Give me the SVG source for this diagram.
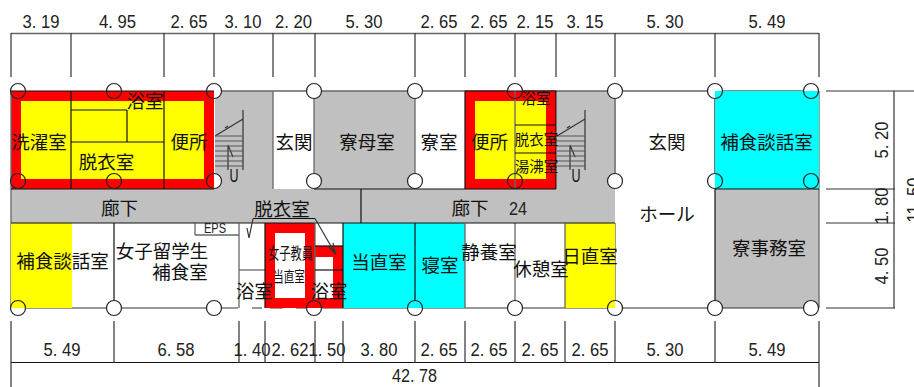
<svg xmlns="http://www.w3.org/2000/svg" width="914" height="387" viewBox="0 0 914 387">
<style>
text{font-family:"Noto Sans CJK JP","Noto Sans",sans-serif;fill:#111;text-anchor:middle}
.r{font-size:18.500px}
.s{font-size:14.500px}
.d{font-family:"Liberation Sans",sans-serif;font-size:18px;fill:#222}
line,polyline,path.l{stroke:#333;stroke-width:1.2;fill:none}
.g{stroke:#666;stroke-width:1.3}
.k{stroke:#111;stroke-width:1.2}
.c{fill:#fff;stroke:none}
.o{fill:none;stroke:#222;stroke-width:1.2}
</style>
<defs>
<circle id="cw" r="7.5" class="c"/>
<circle id="co" r="7.5" class="o"/>
<g id="stair">
<path class="l" d="M0 136L28 119M28 110V170M13 145V170M13 145L18 157M10 128L13 126"/>
<path class="l" style="stroke:#555" d="M0 136H28M0 141H28M0 146H28M0 151H28M0 156H28M0 161H28M0 166H28"/>
<text x="19" y="182" style="font-family:'Liberation Sans',sans-serif;font-size:18px" textLength="9" lengthAdjust="spacingAndGlyphs">U</text>
</g>
</defs>
<rect width="914" height="387" fill="#fff"/>

<g id="base-fills" fill="#c0c0c0">
<rect x="215" y="91" width="58" height="98"/>
<rect x="314" y="91" width="101" height="98"/>
<rect x="557" y="91" width="59" height="98"/>
<rect x="11" y="189" width="604" height="34"/>
<rect x="715" y="189" width="104" height="119"/>
</g>

<g id="walls-under">
<line class="g" x1="214" y1="91" x2="819" y2="91"/>
<line class="g" x1="11" y1="189" x2="11" y2="308"/>
<line class="g" x1="273" y1="91" x2="273" y2="189"/>
<line class="g" x1="314" y1="91" x2="314" y2="189"/>
<line class="g" x1="415" y1="91" x2="415" y2="189"/>
<line class="g" x1="615" y1="91" x2="615" y2="189"/>
<line class="k" x1="715" y1="91" x2="715" y2="308"/>
<line class="g" x1="819" y1="91" x2="819" y2="308"/>
<line class="k" x1="114" y1="223" x2="114" y2="308"/>
<line class="k" x1="415" y1="223" x2="415" y2="308"/>
<line class="g" x1="515" y1="223" x2="515" y2="308"/>
<line class="g" x1="615" y1="223" x2="615" y2="308"/>
<path class="l" d="M11 308H238M252 308H262M270 308H283M296 308H310M318 308H819"/>
</g>

<g id="columns-fill">
<use href="#cw" x="18" y="91"/><use href="#cw" x="114" y="91"/><use href="#cw" x="214" y="91"/><use href="#cw" x="314" y="91"/><use href="#cw" x="415" y="91"/><use href="#cw" x="515" y="91"/><use href="#cw" x="615" y="91"/><use href="#cw" x="715" y="91"/><use href="#cw" x="811" y="91"/>
<use href="#cw" x="18" y="181"/><use href="#cw" x="114" y="181"/><use href="#cw" x="214" y="181"/><use href="#cw" x="314" y="181"/><use href="#cw" x="415" y="181"/><use href="#cw" x="515" y="181"/><use href="#cw" x="615" y="181"/><use href="#cw" x="715" y="181"/><use href="#cw" x="811" y="181"/>
<use href="#cw" x="18" y="308"/><use href="#cw" x="114" y="308"/><use href="#cw" x="214" y="308"/><use href="#cw" x="314" y="308"/><use href="#cw" x="415" y="308"/><use href="#cw" x="515" y="308"/><use href="#cw" x="615" y="308"/><use href="#cw" x="715" y="308"/><use href="#cw" x="811" y="308"/>
</g>

<g id="color-fills">
<rect x="11" y="91" width="203" height="98" fill="#f00"/>
<rect x="21" y="101" width="183" height="78" fill="#ff0"/>
<rect x="465" y="91" width="91" height="98" fill="#f00"/>
<rect x="475" y="101" width="71" height="78" fill="#ff0"/>
<rect x="715" y="91" width="104" height="98" fill="#0ff"/>
<rect x="11" y="223" width="61" height="85" fill="#ff0"/>
<path d="M265 223H315V246H343V308H265Z" fill="#f00"/>
<rect x="275" y="233" width="30" height="65" fill="#fff"/>
<rect x="315" y="257" width="18" height="41" fill="#fff"/>
<rect x="343" y="223" width="122" height="85" fill="#0ff"/>
<rect x="565" y="223" width="50" height="85" fill="#ff0"/>
</g>

<g id="walls">
<line class="k" x1="11" y1="91" x2="214" y2="91"/>
<line class="k" x1="465" y1="91" x2="556" y2="91"/>
<line class="g" x1="11" y1="91" x2="11" y2="189"/>
<line class="k" x1="71" y1="91" x2="71" y2="189"/>
<line class="k" x1="164" y1="91" x2="164" y2="189"/>
<line class="k" x1="71" y1="110" x2="127" y2="110"/>
<line class="k" x1="127" y1="110" x2="127" y2="142"/>
<line class="k" x1="71" y1="142" x2="164" y2="142"/>
<line class="k" x1="11" y1="189" x2="214" y2="189"/>
<line class="k" x1="465" y1="91" x2="465" y2="189"/>
<line class="g" x1="515" y1="91" x2="515" y2="189"/>
<line class="k" x1="556" y1="91" x2="556" y2="189"/>
<line class="k" x1="515" y1="125" x2="556" y2="125"/>
<line class="k" x1="515" y1="153" x2="556" y2="153"/>
<line class="k" x1="314" y1="189" x2="556" y2="189"/>
<line class="k" x1="715" y1="189" x2="819" y2="189"/>
<line class="k" x1="361" y1="189" x2="361" y2="223"/>
<line class="k" x1="11" y1="223" x2="615" y2="223"/>
<line class="g" x1="195" y1="235" x2="239" y2="235"/>
<line class="g" x1="195" y1="223" x2="195" y2="235"/>
<line class="g" x1="239" y1="223" x2="239" y2="308"/>
<line class="g" x1="239" y1="270" x2="265" y2="270"/>
<line class="k" x1="265" y1="223" x2="265" y2="308"/>
<line class="g" x1="315" y1="223" x2="315" y2="300"/>
<line class="k" x1="315" y1="246" x2="343" y2="246"/>
<line class="k" x1="315" y1="270" x2="343" y2="270"/>
<line class="k" x1="343" y1="223" x2="343" y2="308"/>
<line class="k" x1="415" y1="223" x2="415" y2="301"/>
<line class="g" x1="465" y1="223" x2="465" y2="308"/>
<line class="g" x1="565" y1="223" x2="565" y2="308"/>
<line class="k" x1="253" y1="218.500" x2="315" y2="218.500"/>
<path class="l" d="M253 218.500L249 238M247 228L249 238L251 228M315 218.500L335.500 254M328 246L335.500 254L333 243"/>
<use href="#stair" x="215"/>
<use href="#stair" x="557"/>
</g>

<g id="columns-outline">
<use href="#co" x="18" y="91"/><use href="#co" x="114" y="91"/><use href="#co" x="214" y="91"/><use href="#co" x="314" y="91"/><use href="#co" x="415" y="91"/><use href="#co" x="515" y="91"/><use href="#co" x="615" y="91"/><use href="#co" x="715" y="91"/><use href="#co" x="811" y="91"/>
<use href="#co" x="18" y="181"/><use href="#co" x="114" y="181"/><use href="#co" x="214" y="181"/><use href="#co" x="314" y="181"/><use href="#co" x="415" y="181"/><use href="#co" x="515" y="181"/><use href="#co" x="615" y="181"/><use href="#co" x="715" y="181"/><use href="#co" x="811" y="181"/>
<use href="#co" x="18" y="308"/><use href="#co" x="114" y="308"/><use href="#co" x="214" y="308"/><use href="#co" x="314" y="308"/><use href="#co" x="415" y="308"/><use href="#co" x="515" y="308"/><use href="#co" x="615" y="308"/><use href="#co" x="715" y="308"/><use href="#co" x="811" y="308"/>
</g>

<g id="dimension-lines">
<line class="g" x1="11" y1="33.500" x2="819" y2="33.500"/>
<path class="l" d="M11 33V77M71 33V77M164 33V77M214 33V77M273 33V77M315 33V77M415 33V77M465 33V77M515 33V77M556 33V77M615 33V77M715 33V77M819 33V77"/>
<line class="k" x1="11" y1="362.500" x2="819" y2="362.500"/>
<path class="l" d="M11 321V387M114 321V363M239 321V363M265 321V363M315 321V363M343 321V363M415 321V363M465 321V363M515 321V363M565 321V363M615 321V363M715 321V363M819 321V387"/>
<path class="l" d="M826 91H914M826 189H895M826 223H895M826 308H895M894 91V308"/>
</g>

<g id="dimensions">
<text class="d" x="41" y="27.500" textLength="37" lengthAdjust="spacingAndGlyphs">3. 19</text>
<text class="d" x="117.500" y="27.500" textLength="37" lengthAdjust="spacingAndGlyphs">4. 95</text>
<text class="d" x="189" y="27.500" textLength="37" lengthAdjust="spacingAndGlyphs">2. 65</text>
<text class="d" x="243" y="27.500" textLength="37" lengthAdjust="spacingAndGlyphs">3. 10</text>
<text class="d" x="293.500" y="27.500" textLength="37" lengthAdjust="spacingAndGlyphs">2. 20</text>
<text class="d" x="364" y="27.500" textLength="37" lengthAdjust="spacingAndGlyphs">5. 30</text>
<text class="d" x="439" y="27.500" textLength="37" lengthAdjust="spacingAndGlyphs">2. 65</text>
<text class="d" x="489" y="27.500" textLength="37" lengthAdjust="spacingAndGlyphs">2. 65</text>
<text class="d" x="535" y="27.500" textLength="37" lengthAdjust="spacingAndGlyphs">2. 15</text>
<text class="d" x="585" y="27.500" textLength="37" lengthAdjust="spacingAndGlyphs">3. 15</text>
<text class="d" x="665" y="27.500" textLength="37" lengthAdjust="spacingAndGlyphs">5. 30</text>
<text class="d" x="767" y="27.500" textLength="37" lengthAdjust="spacingAndGlyphs">5. 49</text>
<text class="d" x="62" y="356" textLength="37" lengthAdjust="spacingAndGlyphs">5. 49</text>
<text class="d" x="176" y="356" textLength="37" lengthAdjust="spacingAndGlyphs">6. 58</text>
<text class="d" x="252" y="356" textLength="37" lengthAdjust="spacingAndGlyphs">1. 40</text>
<text class="d" x="290" y="356" textLength="37" lengthAdjust="spacingAndGlyphs">2. 62</text>
<text class="d" x="327" y="356" textLength="37" lengthAdjust="spacingAndGlyphs">1. 50</text>
<text class="d" x="379" y="356" textLength="37" lengthAdjust="spacingAndGlyphs">3. 80</text>
<text class="d" x="439" y="356" textLength="37" lengthAdjust="spacingAndGlyphs">2. 65</text>
<text class="d" x="489" y="356" textLength="37" lengthAdjust="spacingAndGlyphs">2. 65</text>
<text class="d" x="540" y="356" textLength="37" lengthAdjust="spacingAndGlyphs">2. 65</text>
<text class="d" x="590" y="356" textLength="37" lengthAdjust="spacingAndGlyphs">2. 65</text>
<text class="d" x="665" y="356" textLength="37" lengthAdjust="spacingAndGlyphs">5. 30</text>
<text class="d" x="767" y="356" textLength="37" lengthAdjust="spacingAndGlyphs">5. 49</text>
<text class="d" x="414.500" y="382" textLength="45" lengthAdjust="spacingAndGlyphs">42. 78</text>
<text class="d" transform="translate(888 140) rotate(-90)" textLength="37" lengthAdjust="spacingAndGlyphs">5. 20</text>
<text class="d" transform="translate(888 206) rotate(-90)" textLength="37" lengthAdjust="spacingAndGlyphs">1. 80</text>
<text class="d" transform="translate(888 266) rotate(-90)" textLength="37" lengthAdjust="spacingAndGlyphs">4. 50</text>
<text class="d" transform="translate(920 200) rotate(-90)" textLength="45" lengthAdjust="spacingAndGlyphs">11. 50</text>
</g>

<g id="labels">
<text class="r" x="39" y="149">洗濯室</text>
<text class="r" x="145" y="108">浴室</text>
<text class="r" x="106.500" y="169">脱衣室</text>
<text class="r" x="189" y="149">便所</text>
<text class="r" x="294" y="149">玄関</text>
<text class="r" x="367" y="149">寮母室</text>
<text class="r" x="439" y="149">寮室</text>
<text class="r" x="489.500" y="149">便所</text>
<text class="s" x="536" y="104">浴室</text>
<text class="s" x="536.500" y="145">脱衣室</text>
<text class="s" x="536.500" y="172">湯沸室</text>
<text class="r" x="667" y="149">玄関</text>
<text class="r" x="766.500" y="149">補食談話室</text>
<text class="r" x="119.500" y="215">廊下</text>
<text class="r" x="282" y="216">脱衣室</text>
<text class="r" x="470" y="215">廊下</text>
<text class="d" x="518" y="215" textLength="18" lengthAdjust="spacingAndGlyphs">24</text>
<text class="r" x="667" y="221">ホール</text>
<text class="r" x="769" y="255">寮事務室</text>
<text class="r" x="62.500" y="268">補食談話室</text>
<text class="r" x="162" y="258">女子留学生</text>
<text class="r" x="180" y="279">補食室</text>
<text class="d" x="215" y="233" style="font-size:14px" textLength="22" lengthAdjust="spacingAndGlyphs">EPS</text>
<text class="r" x="254.500" y="298">浴室</text>
<text x="290.500" y="259" style="font-size:16px" textLength="45" lengthAdjust="spacingAndGlyphs">女子教員</text>
<text x="289" y="282" style="font-size:15px" textLength="32" lengthAdjust="spacingAndGlyphs">当直室</text>
<text class="r" x="329" y="298">浴室</text>
<text class="r" x="379" y="269">当直室</text>
<text class="r" x="440" y="272">寝室</text>
<text class="r" x="489" y="259">静養室</text>
<text class="r" x="541" y="276">休憩室</text>
<text class="r" x="590" y="263">日直室</text>
</g>
</svg>
